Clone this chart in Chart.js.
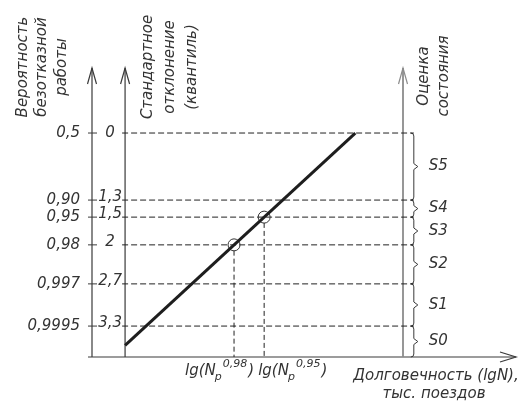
<!DOCTYPE html>
<html>
<head>
<meta charset="utf-8">
<script src="https://cdn.jsdelivr.net/npm/chart.js@4.4.1/dist/chart.umd.min.js"></script>
<style>
    html, body { margin: 0; padding: 0; background: #fff; }
</style>
</head>
<body>
<canvas id="reliabilityChart" width="530" height="401"></canvas>
<script>
// уровни надёжности, сверху вниз
const probLabels = ['0,5', '0,90', '0,95', '0,98', '0,997', '0,9995']
const quantLabels = ['0', '1,3', '1,5', '2', '2,7', '3,3']
const levelY = [7.75, 5.43, 4.84, 3.88, 2.53, 1.07]   // высота уровня на схеме
const stateLabels = ['S5', 'S4', 'S3', 'S2', 'S1', 'S0']

// линия долговечности
const lineX = [0.78, 6.21]
const lineY = [0.40, 7.75]

// lg(Np) для 0,98 и 0,95
const markX = [3.35, 4.06]
const markY = [3.88, 4.84]
const markLabels = ['0,98', '0,95']

// положение осей на схеме
const PROB_AXIS = 0
const QUANT_AXIS = 0.78
const STATE_AXIS = 7.335
const BRACE_X = 7.59
const LEVEL_START = 0.71

const FONT = '"DejaVu Sans", sans-serif'
const TEXT = '#333'

const arrowUp = (ctx, x, y) => {
    ctx.beginPath()
    ctx.moveTo(x - 4.5, y + 16)
    ctx.lineTo(x, y)
    ctx.lineTo(x + 4.5, y + 16)
    ctx.stroke()
}

const arrowRight = (ctx, x, y) => {
    ctx.beginPath()
    ctx.moveTo(x - 16, y - 5)
    ctx.lineTo(x, y)
    ctx.lineTo(x - 16, y + 5)
    ctx.stroke()
}

const vText = (ctx, lines, xs, yc) => {
    lines.forEach((t, i) => {
        ctx.save()
        ctx.translate(xs[i], yc)
        ctx.rotate(-Math.PI / 2)
        ctx.textAlign = 'center'
        ctx.textBaseline = 'alphabetic'
        ctx.fillText(t, 0, 0)
        ctx.restore()
    })
}

const schemePlugin = {
    id: 'scheme',
    beforeDatasetsDraw(chart) {
        const { ctx, scales: { x, y } } = chart
        const px = v => x.getPixelForValue(v)
        const py = v => y.getPixelForValue(v)
        const top = py(10), bottom = py(0)

        ctx.save()
        ctx.lineWidth = 1.2
        ctx.strokeStyle = '#3a3a3a'

        // оси
        ;[PROB_AXIS, QUANT_AXIS].forEach(a => {
            ctx.beginPath()
            ctx.moveTo(px(a), bottom)
            ctx.lineTo(px(a), top)
            ctx.stroke()
            arrowUp(ctx, px(a), top)
        })

        ctx.beginPath()
        ctx.moveTo(px(PROB_AXIS) - 4, bottom)
        ctx.lineTo(px(10), bottom)
        ctx.stroke()
        arrowRight(ctx, px(10), bottom)

        ctx.strokeStyle = '#8c8c8c'
        ctx.lineWidth = 1.8
        ctx.beginPath()
        ctx.moveTo(px(STATE_AXIS), bottom)
        ctx.lineTo(px(STATE_AXIS), top)
        ctx.stroke()
        ctx.lineWidth = 1.2
        arrowUp(ctx, px(STATE_AXIS), top)

        // засечки и подписи уровней
        ctx.strokeStyle = '#3a3a3a'
        ctx.lineWidth = 1
        ctx.fillStyle = TEXT
        ctx.font = 'italic 15px ' + FONT
        levelY.forEach((lv, i) => {
            const yy = py(lv)
            ctx.beginPath()
            ctx.moveTo(px(PROB_AXIS) - 4, yy)
            ctx.lineTo(px(PROB_AXIS) + 5, yy)
            ctx.stroke()

            ctx.textAlign = 'right'
            ctx.textBaseline = 'middle'
            ctx.fillText(probLabels[i], px(PROB_AXIS) - 12, yy)

            ctx.textAlign = 'center'
            if (i === 0) {
                ctx.textBaseline = 'middle'
                ctx.fillText(quantLabels[i], px(QUANT_AXIS) - 15, yy)
            } else {
                ctx.textBaseline = 'alphabetic'
                ctx.fillText(quantLabels[i], px(QUANT_AXIS) - 15, yy + 1)
            }
        })

        // фигурные скобки состояний
        const bounds = levelY.concat([0])
        const bx = px(BRACE_X)
        stateLabels.forEach((s, i) => {
            const y1 = py(bounds[i]), y2 = py(bounds[i + 1])
            const mid = (y1 + y2) / 2
            ctx.beginPath()
            ctx.moveTo(bx - 3, y1)
            ctx.quadraticCurveTo(bx, y1, bx, y1 + 3)
            ctx.lineTo(bx, mid - 3)
            ctx.lineTo(bx + 4, mid)
            ctx.lineTo(bx, mid + 3)
            ctx.lineTo(bx, y2 - 3)
            ctx.quadraticCurveTo(bx, y2, bx - 3, y2)
            ctx.stroke()

            ctx.textAlign = 'left'
            ctx.textBaseline = 'middle'
            ctx.fillText(s, bx + 15, mid)
        })

        // подписи осей
        vText(ctx, ['Вероятность', 'безотказной', 'работы'], [27, 46, 66], 67)
        vText(ctx, ['Стандартное', 'отклонение', '(квантиль)'], [152, 174, 196], 67)
        vText(ctx, ['Оценка', 'состояния'], [428, 448], 76)

        ctx.textAlign = 'center'
        ctx.textBaseline = 'alphabetic'
        ctx.fillText('Долговечность (lgN),', 436, 380)
        ctx.fillText('тыс. поездов', 434, 398)

        // lg(Np^p)
        const offsets = [-49, -6]
        markX.forEach((mx, i) => {
            let cx = px(mx) + offsets[i]
            const base = bottom + 18
            ctx.textAlign = 'left'
            ctx.font = 'italic 15px ' + FONT
            ctx.fillText('lg(N', cx, base)
            cx += ctx.measureText('lg(N').width
            ctx.font = 'italic 11px ' + FONT
            ctx.fillText('p', cx - 1, base + 5)
            cx += ctx.measureText('p').width
            ctx.fillText(markLabels[i], cx, base - 8)
            cx += ctx.measureText(markLabels[i]).width + 1
            ctx.font = 'italic 15px ' + FONT
            ctx.fillText(')', cx, base)
        })

        ctx.restore()
    }
}

const renderScheme = () => {
    const datasets = [
        {
            data: lineX.map((v, i) => ({ x: v, y: lineY[i] })),
            showLine: true,
            borderColor: '#1e1e1e',
            borderWidth: 3,
            pointRadius: 0
        },
        {
            data: markX.map((v, i) => ({ x: v, y: markY[i] })),
            showLine: false,
            pointRadius: 6,
            pointBorderWidth: 1,
            pointBorderColor: '#333',
            pointBackgroundColor: 'rgba(0,0,0,0)'
        }
    ]

    levelY.forEach(lv => {
        datasets.push({
            data: [{ x: LEVEL_START, y: lv }, { x: BRACE_X, y: lv }],
            showLine: true,
            borderColor: '#222',
            borderWidth: 1,
            borderDash: [6, 3],
            pointRadius: 0
        })
    })

    markX.forEach((mx, i) => {
        datasets.push({
            data: [{ x: mx, y: markY[i] - 0.2 }, { x: mx, y: 0 }],
            showLine: true,
            borderColor: '#222',
            borderWidth: 1,
            borderDash: [5, 3],
            pointRadius: 0
        })
    })

    const options = {
        responsive: false,
        animation: false,
        layout: { padding: { left: 92, right: 14, top: 68, bottom: 44 } },
        scales: {
            x: { type: 'linear', min: 0, max: 10, display: false },
            y: { type: 'linear', min: 0, max: 10, display: false }
        },
        plugins: {
            legend: { display: false },
            tooltip: { enabled: false }
        }
    }

    new Chart('reliabilityChart', { type: 'scatter', data: { datasets }, options, plugins: [schemePlugin] })
}

renderScheme()
</script>
</body>
</html>
